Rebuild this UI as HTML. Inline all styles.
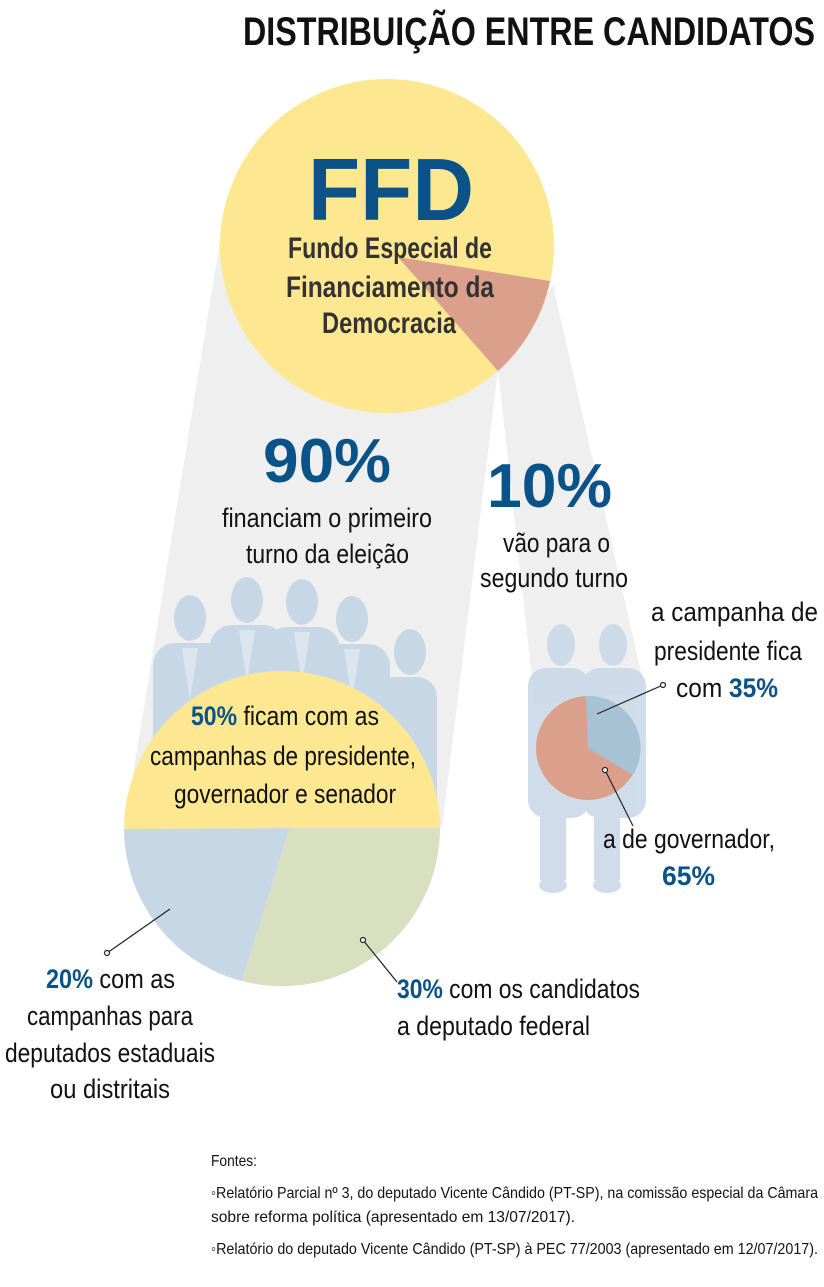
<!DOCTYPE html>
<html><head><meta charset="utf-8"><style>
html,body{margin:0;padding:0;background:#fff}
svg{display:block}
text{font-family:"Liberation Sans",sans-serif}
</style></head><body>
<svg width="824" height="1287" viewBox="0 0 824 1287" xmlns="http://www.w3.org/2000/svg">
<rect width="824" height="1287" fill="#fff"/>
<polygon points="221,235 250,330 498,370 442,828 124,830" fill="#efefef"/>
<polygon points="498,370 553,285 645,690 535,705" fill="#efefef"/>
<g fill="#c8d7e6">
<ellipse cx="190" cy="618" rx="16" ry="23"/>
<rect x="153" y="643" width="75" height="150" rx="22"/>
<ellipse cx="247" cy="600" rx="16" ry="23"/>
<rect x="210" y="625" width="75" height="150" rx="22"/>
<ellipse cx="302" cy="602" rx="16" ry="23"/>
<rect x="265" y="627" width="75" height="150" rx="22"/>
<ellipse cx="352" cy="619" rx="16" ry="23"/>
<rect x="315" y="644" width="75" height="150" rx="22"/>
<ellipse cx="410" cy="652" rx="16" ry="23"/>
<rect x="375" y="677" width="62" height="150" rx="20"/>
</g>
<g fill="#dbe5ef">
<polygon points="182,648 198,648 190,700"/>
<polygon points="239,630 255,630 247,682"/>
<polygon points="294,632 310,632 302,684"/>
<polygon points="344,649 360,649 352,701"/>
</g>
<g fill="#c8d7e6" opacity="0.85">
<ellipse cx="561" cy="645" rx="14" ry="21"/>
<rect x="528" y="668" width="62" height="150" rx="18"/>
<rect x="540" y="800" width="26" height="80"/>
<ellipse cx="553" cy="885" rx="14" ry="8"/>
<ellipse cx="613" cy="645" rx="14" ry="21"/>
<rect x="582" y="668" width="64" height="150" rx="18"/>
<rect x="594" y="800" width="26" height="80"/>
<ellipse cx="607" cy="885" rx="14" ry="8"/>
</g>
<circle cx="387" cy="246" r="167" fill="#fde891"/>
<path d="M398,257 L550,281 A167,167 0 0 1 498,371 Z" fill="#dba08b"/>
<path d="M124,829 A158,158 0 0 1 440,829 Z" fill="#fde891"/>
<path d="M124,829 L290,828 L242,981 A158,158 0 0 1 124,829 Z" fill="#c8d7e6"/>
<path d="M290,828 L440,828 A158,158 0 0 1 242,981 Z" fill="#d8e0c0"/>
<circle cx="588" cy="748" r="52" fill="#dba08b"/>
<path d="M588,748 L586,696 A52,52 0 0 1 633,775 Z" fill="#a7c2d5"/>
<g stroke="#222" stroke-width="1.2" fill="#fff">
<line x1="107" y1="953" x2="170" y2="909"/><circle cx="107" cy="953" r="2.5"/>
<line x1="363" y1="940" x2="397" y2="982"/><circle cx="363" cy="940" r="2.5"/>
<line x1="663" y1="685" x2="597" y2="714"/><circle cx="663" cy="685" r="2.5"/>
<line x1="605" y1="770" x2="633" y2="826"/><circle cx="605" cy="770" r="2.5"/>
</g>
<text x="243" y="45" font-size="40" font-weight="bold" fill="#111" textLength="572" lengthAdjust="spacingAndGlyphs">DISTRIBUIÇÃO ENTRE CANDIDATOS</text>
<text x="308" y="220" font-size="88" font-weight="bold" fill="#0a5287" textLength="166" lengthAdjust="spacingAndGlyphs">FFD</text>
<g font-size="30" font-weight="bold" fill="#333">
<text x="288" y="258" textLength="204" lengthAdjust="spacingAndGlyphs">Fundo Especial de</text>
<text x="286" y="297" textLength="208" lengthAdjust="spacingAndGlyphs">Financiamento da</text>
<text x="322" y="333" textLength="134" lengthAdjust="spacingAndGlyphs">Democracia</text>
</g>
<g font-size="62" font-weight="bold" fill="#0a5287">
<text x="263" y="482" textLength="128" lengthAdjust="spacingAndGlyphs">90%</text>
<text x="487" y="507" textLength="125" lengthAdjust="spacingAndGlyphs">10%</text>
</g>
<g font-size="27" fill="#111">
<text x="222" y="527" textLength="210" lengthAdjust="spacingAndGlyphs">financiam o primeiro</text>
<text x="246" y="563" textLength="163" lengthAdjust="spacingAndGlyphs">turno da eleição</text>
<text x="503" y="552" textLength="107" lengthAdjust="spacingAndGlyphs">vão para o</text>
<text x="480" y="587" textLength="148" lengthAdjust="spacingAndGlyphs">segundo turno</text>
<text x="651" y="621" textLength="167" lengthAdjust="spacingAndGlyphs">a campanha de</text>
<text x="654" y="660" textLength="148" lengthAdjust="spacingAndGlyphs">presidente fica</text>
<text x="676" y="697" textLength="102" lengthAdjust="spacingAndGlyphs">com <tspan font-weight="bold" fill="#0a5287">35%</tspan></text>
<text x="191" y="725" textLength="188" lengthAdjust="spacingAndGlyphs"><tspan font-weight="bold" fill="#0a5287">50%</tspan> ficam com as</text>
<text x="150" y="765" textLength="266" lengthAdjust="spacingAndGlyphs">campanhas de presidente,</text>
<text x="174" y="803" textLength="222" lengthAdjust="spacingAndGlyphs">governador e senador</text>
<text x="603" y="848" textLength="172" lengthAdjust="spacingAndGlyphs">a de governador,</text>
<text x="662" y="885" font-weight="bold" fill="#0a5287" textLength="53" lengthAdjust="spacingAndGlyphs">65%</text>
<text x="46" y="988" textLength="129" lengthAdjust="spacingAndGlyphs"><tspan font-weight="bold" fill="#0a5287">20%</tspan> com as</text>
<text x="27" y="1025" textLength="166" lengthAdjust="spacingAndGlyphs">campanhas para</text>
<text x="5" y="1062" textLength="210" lengthAdjust="spacingAndGlyphs">deputados estaduais</text>
<text x="50" y="1098" textLength="120" lengthAdjust="spacingAndGlyphs">ou distritais</text>
<text x="397" y="998" textLength="243" lengthAdjust="spacingAndGlyphs"><tspan font-weight="bold" fill="#0a5287">30%</tspan> com os candidatos</text>
<text x="397" y="1035" textLength="193" lengthAdjust="spacingAndGlyphs">a deputado federal</text>
</g>
<g font-size="16" fill="#111">
<text x="211" y="1166" textLength="46" lengthAdjust="spacingAndGlyphs">Fontes:</text>
<text x="211" y="1198" textLength="607" lengthAdjust="spacingAndGlyphs">◦Relatório Parcial nº 3, do deputado Vicente Cândido (PT-SP), na comissão especial da Câmara</text>
<text x="211" y="1222" textLength="364" lengthAdjust="spacingAndGlyphs">sobre reforma política (apresentado em 13/07/2017).</text>
<text x="211" y="1254" textLength="607" lengthAdjust="spacingAndGlyphs">◦Relatório do deputado Vicente Cândido (PT-SP) à PEC 77/2003 (apresentado em 12/07/2017).</text>
</g>
</svg>
</body></html>
